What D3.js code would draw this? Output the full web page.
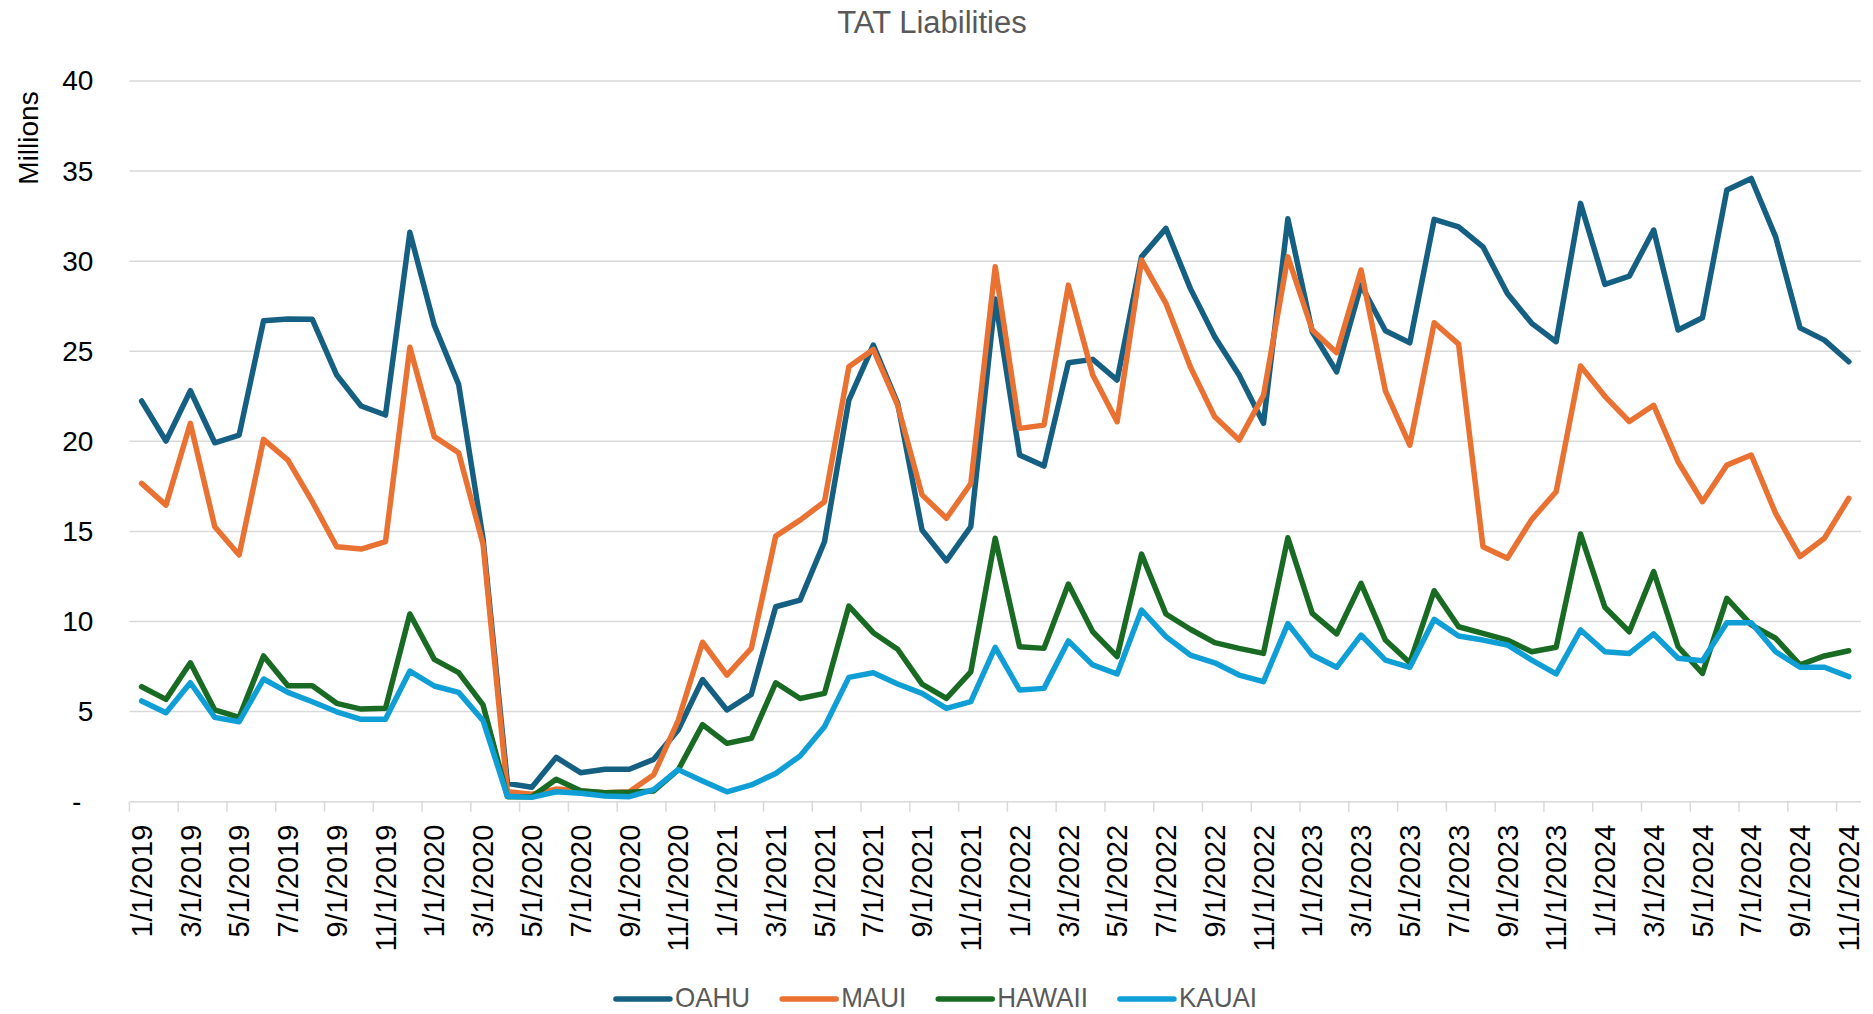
<!DOCTYPE html>
<html>
<head>
<meta charset="utf-8">
<script src="https://cdn.jsdelivr.net/npm/d3@7"></script>
<style>
  body { margin: 0; background: #fff; }
  svg { display: block; }
</style>
</head>
<body>
<svg id="chart" width="1873" height="1014"></svg>
<script>
// months, Jan 2019 .. Nov 2024
const months = [
  "1/1/2019","2/1/2019","3/1/2019","4/1/2019","5/1/2019","6/1/2019","7/1/2019","8/1/2019","9/1/2019","10/1/2019","11/1/2019","12/1/2019",
  "1/1/2020","2/1/2020","3/1/2020","4/1/2020","5/1/2020","6/1/2020","7/1/2020","8/1/2020","9/1/2020","10/1/2020","11/1/2020","12/1/2020",
  "1/1/2021","2/1/2021","3/1/2021","4/1/2021","5/1/2021","6/1/2021","7/1/2021","8/1/2021","9/1/2021","10/1/2021","11/1/2021","12/1/2021",
  "1/1/2022","2/1/2022","3/1/2022","4/1/2022","5/1/2022","6/1/2022","7/1/2022","8/1/2022","9/1/2022","10/1/2022","11/1/2022","12/1/2022",
  "1/1/2023","2/1/2023","3/1/2023","4/1/2023","5/1/2023","6/1/2023","7/1/2023","8/1/2023","9/1/2023","10/1/2023","11/1/2023","12/1/2023",
  "1/1/2024","2/1/2024","3/1/2024","4/1/2024","5/1/2024","6/1/2024","7/1/2024","8/1/2024","9/1/2024","10/1/2024","11/1/2024"
];

const oahu = [
  22.24,20.02,22.81,19.92,20.35,26.69,26.79,26.77,23.68,21.96,21.46,31.6,
  26.45,23.16,14.6,1.02,0.8,2.46,1.61,1.8,1.8,2.35,3.98,6.78,
  5.09,5.96,10.82,11.19,14.43,22.29,25.34,22.11,15.08,13.37,15.27,27.9,
  19.24,18.63,24.36,24.55,23.4,30.24,31.82,28.49,25.8,23.68,21.0,32.35,
  26.08,23.86,28.67,26.14,25.47,32.32,31.91,30.8,28.21,26.55,25.53,33.21,
  28.71,29.17,31.73,26.18,26.86,33.95,34.59,31.35,26.3,25.62,24.42
];
const maui = [
  17.67,16.46,21.0,15.26,13.69,20.11,18.96,16.65,14.15,14.02,14.43,25.22,
  20.26,19.37,14.3,0.55,0.41,0.7,0.6,0.5,0.55,1.5,4.5,8.85,
  7.03,8.51,14.74,15.63,16.65,24.14,25.1,22.01,17.03,15.73,17.66,29.69,
  20.72,20.9,28.67,23.68,21.09,30.06,27.66,24.14,21.36,20.07,22.55,30.24,
  26.18,24.92,29.51,22.8,19.79,26.58,25.4,14.15,13.51,15.67,17.2,24.18,
  22.5,21.1,22.0,18.87,16.65,18.68,19.24,16.0,13.6,14.62,16.84
];
const hawaii = [
  6.38,5.68,7.71,5.09,4.68,8.09,6.44,6.44,5.46,5.14,5.18,10.42,
  7.9,7.16,5.37,0.28,0.28,1.24,0.61,0.5,0.52,0.6,1.76,4.28,
  3.24,3.52,6.6,5.73,6.01,10.86,9.38,8.46,6.53,5.73,7.21,14.62,
  8.6,8.51,12.08,9.43,8.05,13.74,10.42,9.57,8.83,8.51,8.23,14.65,
  10.45,9.31,12.12,8.97,7.71,11.71,9.71,9.34,8.97,8.32,8.57,14.86,
  10.79,9.43,12.77,8.6,7.12,11.29,9.81,9.07,7.59,8.09,8.38
];
const kauai = [
  5.59,4.94,6.6,4.68,4.44,6.81,6.07,5.55,4.99,4.57,4.57,7.25,
  6.42,6.07,4.5,0.3,0.24,0.55,0.47,0.32,0.28,0.67,1.78,1.15,
  0.55,0.93,1.57,2.54,4.16,6.9,7.16,6.53,6.01,5.18,5.55,8.57,
  6.2,6.29,8.92,7.59,7.09,10.64,9.16,8.14,7.71,7.03,6.66,9.88,
  8.14,7.46,9.25,7.86,7.46,10.12,9.2,8.97,8.7,7.86,7.09,9.53,
  8.32,8.23,9.31,7.96,7.82,9.93,9.93,8.32,7.46,7.46,6.94
];

const seriesNames = ["OAHU", "MAUI", "HAWAII", "KAUAI"];
const seriesColors = ["#156082", "#E97132", "#196B24", "#0F9ED5"];
const yTicks = [0, 5, 10, 15, 20, 25, 30, 35, 40];

const series = [oahu, maui, hawaii, kauai].map((vals, k) => ({
  name: seriesNames[k], color: seriesColors[k], values: vals
}));

const svg = d3.select("#chart");
const plotLeft = 129.4, plotRight = 1861, plotTop = 81, plotBottom = 801.7;

const x = d3.scaleBand().domain(months).range([plotLeft, plotRight]).padding(0);
const y = d3.scaleLinear().domain([0, 40]).range([plotBottom, plotTop]);
const cx = m => x(m) + x.bandwidth() / 2;

// title
svg.append("text")
  .attr("x", 932).attr("y", 33)
  .attr("text-anchor", "middle")
  .style("font-family", "'Liberation Sans', Arial, sans-serif")
  .style("font-size", "31px")
  .style("fill", "#595959")
  .text("TAT Liabilities");

// gridlines
svg.append("g").selectAll("line")
  .data(yTicks)
  .enter().append("line")
  .attr("x1", plotLeft).attr("x2", plotRight)
  .attr("y1", d => y(d)).attr("y2", d => y(d))
  .attr("stroke", "#D9D9D9")
  .attr("stroke-width", 1.5);

// y axis labels
const yAxis = svg.append("g")
  .attr("transform", `translate(${plotLeft},0)`)
  .call(d3.axisLeft(y).tickValues(yTicks).tickSize(0).tickPadding(36)
    .tickFormat(d => d === 0 ? "-" : d));
yAxis.select(".domain").remove();
yAxis.selectAll("text")
  .style("font-family", "'Liberation Sans', Arial, sans-serif")
  .style("font-size", "28px")
  .style("fill", "#000")
  .attr("dx", d => d === 0 ? -12 : 0);

// y title
svg.append("text")
  .attr("transform", "translate(38,138) rotate(-90)")
  .attr("text-anchor", "middle")
  .style("font-family", "'Liberation Sans', Arial, sans-serif")
  .style("font-size", "28px")
  .style("fill", "#000")
  .text("Millions");

// x axis tick marks (every 2 months, between categories)
const labelled = months.filter((m, i) => i % 2 === 0);
svg.append("g").selectAll("line")
  .data(labelled)
  .enter().append("line")
  .attr("x1", d => x(d)).attr("x2", d => x(d))
  .attr("y1", plotBottom).attr("y2", plotBottom + 10)
  .attr("stroke", "#D9D9D9")
  .attr("stroke-width", 1.5);

// x labels
svg.append("g").selectAll("text")
  .data(labelled)
  .enter().append("text")
  .attr("transform", d => `translate(${cx(d)},${plotBottom + 23}) rotate(-90)`)
  .attr("text-anchor", "end")
  .attr("dy", "0.35em")
  .style("font-family", "'Liberation Sans', Arial, sans-serif")
  .style("font-size", "29px")
  .style("fill", "#000")
  .text(d => d);

// lines
const line = d3.line()
  .x((d, i) => cx(months[i]))
  .y(d => y(d));

svg.append("g").selectAll("path")
  .data(series)
  .enter().append("path")
  .attr("d", d => line(d.values))
  .attr("fill", "none")
  .attr("stroke", d => d.color)
  .attr("stroke-width", 5.5)
  .attr("stroke-linejoin", "round")
  .attr("stroke-linecap", "round");

// legend
const legend = svg.append("g");
const items = legend.selectAll("g")
  .data(series)
  .enter().append("g");
items.append("line")
  .attr("x1", 0).attr("x2", 54)
  .attr("y1", 999).attr("y2", 999)
  .attr("stroke", d => d.color)
  .attr("stroke-width", 5.5)
  .attr("stroke-linecap", "round");
const legendText = items.append("text")
  .attr("x", 59).attr("y", 1007)
  .style("font-family", "'Liberation Sans', Arial, sans-serif")
  .style("font-size", "28px")
  .style("fill", "#595959")
  .text(d => d.name);
// squeeze the text a little, the original uses a narrow face
legendText.each(function() {
  const w = this.getComputedTextLength();
  d3.select(this).attr("textLength", w * 0.93).attr("lengthAdjust", "spacingAndGlyphs");
});

let widths = [];
items.each(function() { widths.push(this.getBBox().width); });
const gap = 32;
const total = d3.sum(widths) + gap * (widths.length - 1);
let pos = 936.5 - total / 2;
items.attr("transform", (d, i) => {
  const t = `translate(${pos},0)`;
  pos += widths[i] + gap;
  return t;
});
</script>
</body>
</html>
